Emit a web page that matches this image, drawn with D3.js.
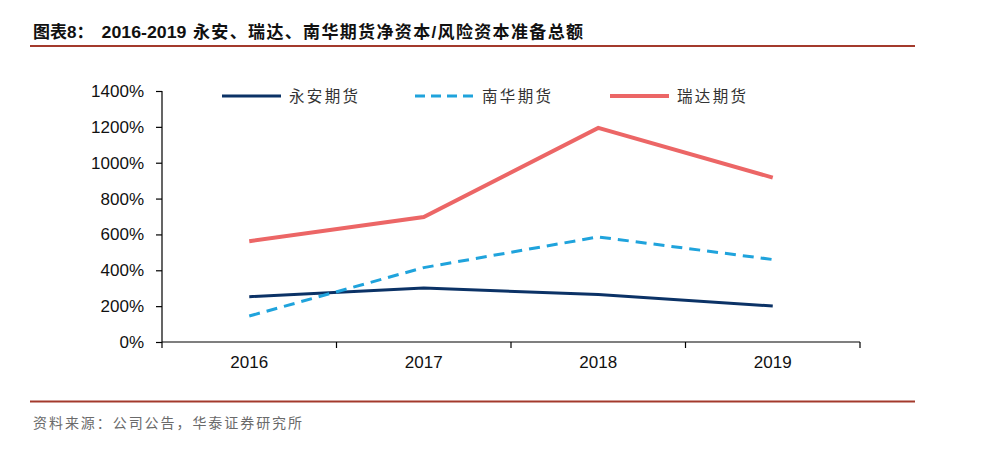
<!DOCTYPE html>
<html>
<head>
<meta charset="utf-8">
<script src="https://cdn.jsdelivr.net/npm/d3@7"></script>
<style>
  html, body { margin: 0; padding: 0; background: #fff; }
  svg { display: block; }
</style>
</head>
<body>
<svg id="chart" width="990" height="451"></svg>
<script>
const years = ["2016", "2017", "2018", "2019"];
const yongan = [253, 301, 265, 201];
const nanhua = [145, 415, 586, 460];
const ruida = [562, 697, 1194, 917];
const yTicks = [0, 200, 400, 600, 800, 1000, 1200, 1400];
const seriesNames = ["永安期货", "南华期货", "瑞达期货"];

const titleParts = ["图表8：", "2016-2019", "永安、瑞达、南华期货净资本/风险资本准备总额"];
const sourceText = "资料来源：公司公告，华泰证券研究所";

const svg = d3.select("#chart");
const latin = "'Liberation Sans', Arial, 'Noto Sans CJK SC', sans-serif";
const cjk = "'Noto Sans CJK SC', sans-serif";

// Title
const title = svg.append("text")
  .attr("y", 38)
  .attr("font-family", latin)
  .attr("font-weight", "bold")
  .attr("font-size", 17)
  .attr("fill", "#111");
title.append("tspan").attr("x", 33).text(titleParts[0]);
title.append("tspan").attr("x", 101.5).attr("textLength", 85).attr("lengthAdjust", "spacingAndGlyphs").text(titleParts[1]);
title.append("tspan").attr("x", 193).attr("textLength", 390).attr("lengthAdjust", "spacing").text(titleParts[2]);

svg.append("line")
  .attr("x1", 30).attr("x2", 915).attr("y1", 46).attr("y2", 46)
  .attr("stroke", "#a33a2c").attr("stroke-width", 2.2);

svg.append("line")
  .attr("x1", 30).attr("x2", 915).attr("y1", 401.5).attr("y2", 401.5)
  .attr("stroke", "#a33a2c").attr("stroke-width", 2.2);

svg.append("text")
  .attr("x", 33).attr("y", 428)
  .attr("font-family", cjk)
  .attr("font-size", 14)
  .attr("textLength", 269)
  .attr("lengthAdjust", "spacing")
  .attr("fill", "#6a6a6a")
  .text(sourceText);

// Scales
const x = d3.scaleBand().domain(years).range([162, 860]);
const y = d3.scaleLinear().domain([0, 1400]).range([342, 91]);

// Axes
const yAxis = d3.axisLeft(y).tickValues(yTicks).tickFormat(d => d + "%").tickSize(6).tickPadding(12);
const gy = svg.append("g").attr("transform", "translate(162,0)").call(yAxis);
gy.select(".domain").attr("stroke", "#000").attr("stroke-width", 1.2).attr("d", "M-6,91.5H0V342");
gy.selectAll(".tick line").attr("stroke", "#000").attr("stroke-width", 1.2);
gy.selectAll(".tick text").attr("font-family", latin).attr("font-size", 17).attr("fill", "#111");

// x axis with ticks at band boundaries
const gx = svg.append("g").attr("transform", "translate(0,342)");
gx.append("line").attr("x1", 162).attr("x2", 860).attr("y1", 0).attr("y2", 0)
  .attr("stroke", "#000").attr("stroke-width", 1.2);
const bounds = years.map(d => x(d)).concat([x(years[years.length - 1]) + x.bandwidth()]);
gx.selectAll(".xt").data(bounds).enter().append("line")
  .attr("x1", d => d).attr("x2", d => d).attr("y1", 0).attr("y2", 6)
  .attr("stroke", "#000").attr("stroke-width", 1.2);
gx.selectAll(".xl").data(years).enter().append("text")
  .attr("x", d => x(d) + x.bandwidth() / 2)
  .attr("y", 26)
  .attr("text-anchor", "middle")
  .attr("font-family", latin).attr("font-size", 17).attr("fill", "#111")
  .text(d => d);

// Lines
const line = d3.line()
  .x((d, i) => x(years[i]) + x.bandwidth() / 2)
  .y(d => y(d));

const styles = [
  { data: yongan, color: "#0b3266", width: 3, dash: null },
  { data: nanhua, color: "#1fa3dc", width: 3, dash: "11,7" },
  { data: ruida, color: "#ec6666", width: 4, dash: null }
];

styles.forEach(s => {
  svg.append("path")
    .attr("d", line(s.data))
    .attr("fill", "none")
    .attr("stroke", s.color)
    .attr("stroke-width", s.width)
    .attr("stroke-dasharray", s.dash);
});

// Legend
const legendX = [222, 415, 610];
seriesNames.forEach((name, i) => {
  const s = styles[i];
  svg.append("line")
    .attr("x1", legendX[i]).attr("x2", legendX[i] + 59)
    .attr("y1", 96).attr("y2", 96)
    .attr("stroke", s.color).attr("stroke-width", s.width)
    .attr("stroke-dasharray", s.dash ? "10,6" : null);
  svg.append("text")
    .attr("x", legendX[i] + 67).attr("y", 102)
    .attr("font-family", cjk).attr("font-size", 15.5)
    .attr("textLength", 69)
    .attr("lengthAdjust", "spacing")
    .attr("fill", "#333")
    .text(name);
});
</script>
</body>
</html>
